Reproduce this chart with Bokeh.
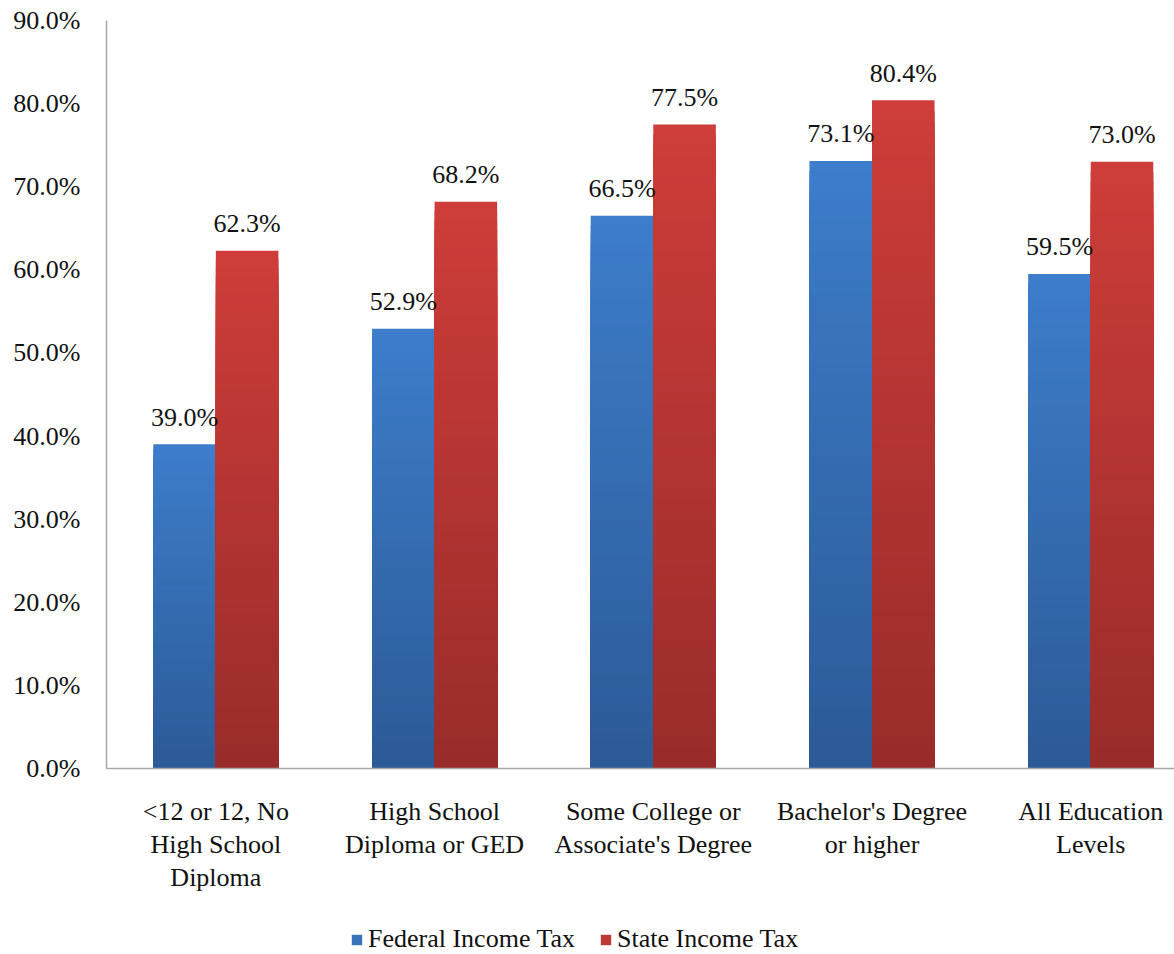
from bokeh.plotting import figure
from bokeh.layouts import column
from bokeh.models import Range1d, FixedTicker, Legend, LegendItem, ColumnDataSource
from bokeh.embed import file_html
from bokeh.resources import INLINE

categories = [
    "<12 or 12, No\nHigh School\nDiploma",
    "High School\nDiploma or GED",
    "Some College or\nAssociate's Degree",
    "Bachelor's Degree\nor higher",
    "All Education\nLevels",
]
federal = [39.0, 52.9, 66.5, 73.1, 59.5]
state = [62.3, 68.2, 77.5, 80.4, 73.0]
series_names = ["Federal Income Tax", "State Income Tax"]
y_ticks = [0, 10, 20, 30, 40, 50, 60, 70, 80, 90]

FONT = "Liberation Serif"
FS = "26px"
BAR_W = 0.286
N_STEPS = 60
BLUE_TOP, BLUE_BOT = "#3d7dcb", "#2c5a96"
RED_TOP, RED_BOT = "#ce3d39", "#982c2a"


def lerp_color(c_top, c_bot, t):
    a = [int(c_top[i:i + 2], 16) for i in (1, 3, 5)]
    b = [int(c_bot[i:i + 2], 16) for i in (1, 3, 5)]
    return "#%02x%02x%02x" % tuple(round(a[k] * (1 - t) + b[k] * t) for k in range(3))


p = figure(
    width=1174, height=896,
    x_range=Range1d(0, 4.883), y_range=Range1d(0, 90),
    output_backend="svg", toolbar_location=None,
    min_border_left=106, min_border_right=0,
    min_border_top=20, min_border_bottom=128,
)
p.outline_line_color = None
p.xgrid.visible = False
p.ygrid.visible = False


def gradient_bars(values, offset, c_top, c_bot):
    """Bars shaded from c_top (top) to c_bot (bottom).

    Each bar is drawn as a set of nested bars all starting at zero, tallest
    first, so every shorter one paints over the lower part without seams.
    """
    xs, tops, colors = [], [], []
    for i, v in enumerate(values):
        for k in range(N_STEPS, 0, -1):
            xs.append(i + 0.5 + offset)
            tops.append(v * k / N_STEPS)
            colors.append(lerp_color(c_top, c_bot, 1 - (k - 0.5) / N_STEPS))
    src = ColumnDataSource(dict(x=xs, top=tops, color=colors))
    return p.vbar(x="x", bottom=0, top="top", width=BAR_W, source=src,
                  fill_color="color", line_color=None)


gradient_bars(federal, -BAR_W / 2, BLUE_TOP, BLUE_BOT)
gradient_bars(state, BAR_W / 2, RED_TOP, RED_BOT)

# value labels above each bar
for vals, off in ((federal, -BAR_W / 2), (state, BAR_W / 2)):
    src = ColumnDataSource(dict(
        x=[i + 0.5 + off for i in range(len(vals))],
        y=vals,
        t=["%.1f%%" % v for v in vals],
    ))
    p.text(x="x", y="y", text="t", source=src, text_align="center",
           text_baseline="alphabetic", y_offset=-27,
           text_font={"value": FONT}, text_font_size=FS, text_color="#111111")

# axes
p.yaxis.ticker = FixedTicker(ticks=y_ticks)
p.yaxis.major_label_overrides = {t: "%.1f%%" % t for t in y_ticks}
p.yaxis.major_label_text_font = FONT
p.yaxis.major_label_text_font_size = FS
p.yaxis.major_label_text_color = "#111111"
p.yaxis.major_label_standoff = 20
p.yaxis.major_tick_line_color = None
p.yaxis.minor_tick_line_color = None
p.yaxis.axis_line_color = "#a6a6a6"
p.yaxis.axis_line_width = 1.5

p.xaxis.ticker = FixedTicker(ticks=[i + 0.5 for i in range(len(categories))])
p.xaxis.major_label_overrides = {i + 0.5: c for i, c in enumerate(categories)}
p.xaxis.major_label_text_font = FONT
p.xaxis.major_label_text_font_size = FS
p.xaxis.major_label_text_color = "#111111"
p.xaxis.major_label_text_line_height = 1.15
p.xaxis.major_label_standoff = 22
p.xaxis.major_tick_line_color = None
p.xaxis.minor_tick_line_color = None
p.xaxis.axis_line_color = "#a6a6a6"
p.xaxis.axis_line_width = 1.5

# legend strip underneath the chart
lf = figure(
    width=1174, height=58,
    x_range=Range1d(0, 1), y_range=Range1d(0, 1),
    x_axis_location=None, y_axis_location=None,
    output_backend="svg", toolbar_location=None,
    min_border_left=106, min_border_right=0, min_border_top=0, min_border_bottom=0,
)
lf.outline_line_color = None
lf.xgrid.visible = False
lf.ygrid.visible = False
# key swatches: one bar each, parked outside the visible range
key_fed = lf.vbar(x=[5], bottom=[5], top=[6], width=0.1,
                  fill_color=lerp_color(BLUE_TOP, BLUE_BOT, 0.3), line_color=None)
key_st = lf.vbar(x=[5], bottom=[5], top=[6], width=0.1,
                 fill_color=lerp_color(RED_TOP, RED_BOT, 0.3), line_color=None)

legend = Legend(
    items=[LegendItem(label=series_names[0], renderers=[key_fed]),
           LegendItem(label=series_names[1], renderers=[key_st])],
    orientation="horizontal",
    location=(244, 0),
    label_text_font=FONT, label_text_font_size=FS, label_text_color="#111111",
    glyph_width=13, glyph_height=13, label_standoff=5, spacing=24,
    padding=0, margin=0, border_line_color=None, background_fill_alpha=0,
)
lf.add_layout(legend, "center")

open("out.html", "w").write(file_html(column(p, lf), INLINE))
